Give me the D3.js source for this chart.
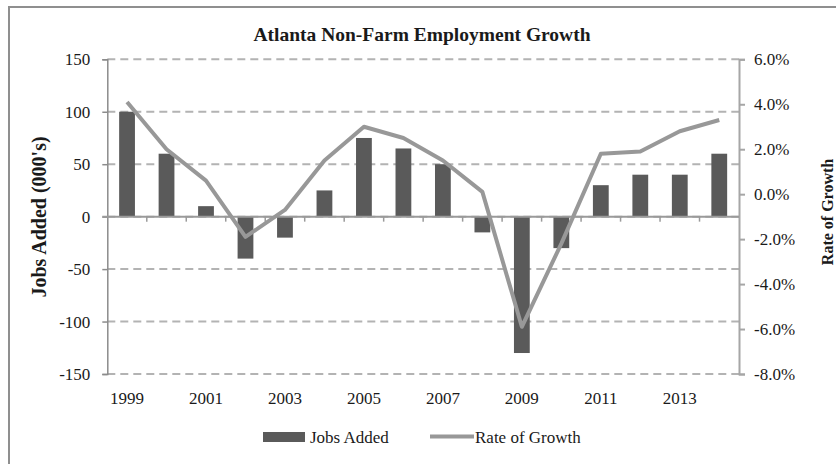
<!DOCTYPE html>
<html>
<head>
<meta charset="utf-8">
<script src="https://cdn.jsdelivr.net/npm/d3@7"></script>
<style>
  html, body { margin: 0; padding: 0; background: #fff; }
  svg { display: block; }
  text { font-family: "Liberation Serif", "Times New Roman", serif; fill: #1a1a1a; }
</style>
</head>
<body>
<svg id="chart" width="836" height="464"></svg>
<script>
// Atlanta non-farm payroll change by year
const years = ["1999","2000","2001","2002","2003","2004","2005","2006",
               "2007","2008","2009","2010","2011","2012","2013","2014"];
const jobsAdded = [100, 60, 10, -40, -20, 25, 75, 65, 50, -15, -130, -30, 30, 40, 40, 60];
const growthRate = [4.1, 2.0, 0.6, -1.9, -0.7, 1.5, 3.0, 2.5, 1.5, 0.1, -5.9, -2.2, 1.8, 1.9, 2.8, 3.3];
const jobsTicks = [-150, -100, -50, 0, 50, 100, 150];
const rateTicks = [-8, -6, -4, -2, 0, 2, 4, 6];
const yearLabels = ["1999","2001","2003","2005","2007","2009","2011","2013"];

const svg = d3.select("#chart");

const plot = { left: 107.3, right: 739, top: 59.3, bottom: 374 };

const x = d3.scaleBand().domain(years).range([plot.left, plot.right]).padding(0);
const yJobs = d3.scaleLinear().domain([-150, 150]).range([plot.bottom, plot.top]);
const yRate = d3.scaleLinear().domain([-8, 6]).range([plot.bottom, plot.top]);

// plain hyphen for negatives, as in spreadsheet output
const fmtJobs = d => String(d);
const fmtRate = d => d.toFixed(1) + "%";

// outer frame
svg.append("rect")
  .attr("x", 9).attr("y", 7)
  .attr("width", 840).attr("height", 470)
  .attr("fill", "none").attr("stroke", "#8f8f8f").attr("stroke-width", 2);

// title
svg.append("text")
  .attr("x", 422).attr("y", 41)
  .attr("text-anchor", "middle")
  .style("font-size", "19.5px").style("font-weight", "bold")
  .text("Atlanta Non-Farm Employment Growth");

// dashed gridlines
svg.append("g").selectAll("line")
  .data(jobsTicks)
  .join("line")
  .attr("x1", plot.left).attr("x2", plot.right)
  .attr("y1", d => yJobs(d)).attr("y2", d => yJobs(d))
  .attr("stroke", "#b3b3b3").attr("stroke-width", 2)
  .attr("stroke-dasharray", "8,5");

// left axis
const leftAxis = svg.append("g")
  .attr("transform", `translate(${plot.left},0)`)
  .call(d3.axisLeft(yJobs).tickValues(jobsTicks).tickSize(5).tickPadding(12).tickFormat(fmtJobs));
leftAxis.select(".domain").attr("stroke", "#8c8c8c").attr("stroke-width", 1.5);
leftAxis.selectAll(".tick line").attr("stroke", "#8c8c8c").attr("stroke-width", 1.5);
leftAxis.selectAll(".tick text").style("font-size", "17px").attr("fill", "#1a1a1a")
  .attr("font-family", "Liberation Serif");

// right axis
const rightAxis = svg.append("g")
  .attr("transform", `translate(${plot.right},0)`)
  .call(d3.axisRight(yRate).tickValues(rateTicks).tickSize(6).tickPadding(9).tickFormat(fmtRate));
rightAxis.select(".domain").attr("stroke", "#a6a6a6").attr("stroke-width", 2);
rightAxis.selectAll(".tick line").attr("stroke", "#a6a6a6").attr("stroke-width", 2);
rightAxis.selectAll(".tick text").style("font-size", "17px").attr("fill", "#1a1a1a")
  .attr("font-family", "Liberation Serif");

// bars
svg.append("g").selectAll("rect")
  .data(years.map((y, i) => ({ year: y, value: jobsAdded[i] })))
  .join("rect")
  .attr("x", d => x(d.year) + x.bandwidth() * 0.3)
  .attr("width", x.bandwidth() * 0.4)
  .attr("y", d => yJobs(Math.max(0, d.value)))
  .attr("height", d => Math.abs(yJobs(d.value) - yJobs(0)))
  .attr("fill", "#5a5a5a");

// category axis along zero line
const zeroY = yJobs(0);
svg.append("line")
  .attr("x1", plot.left - 5).attr("x2", plot.right)
  .attr("y1", zeroY).attr("y2", zeroY)
  .attr("stroke", "#9a9a9a").attr("stroke-width", 2);
const boundaries = years.map(y => x(y)).concat([plot.right]).slice(1, -1);
svg.append("g").selectAll("line")
  .data(boundaries)
  .join("line")
  .attr("x1", d => d).attr("x2", d => d)
  .attr("y1", zeroY).attr("y2", zeroY + 5)
  .attr("stroke", "#9a9a9a").attr("stroke-width", 1.5);

// year labels below plot
svg.append("g").selectAll("text")
  .data(yearLabels)
  .join("text")
  .attr("x", d => x(d) + x.bandwidth() / 2)
  .attr("y", 404)
  .attr("text-anchor", "middle")
  .style("font-size", "17px")
  .text(d => d);

// growth rate line
const line = d3.line()
  .x((d, i) => x(years[i]) + x.bandwidth() / 2)
  .y(d => yRate(d));
svg.append("path")
  .datum(growthRate)
  .attr("d", line)
  .attr("fill", "none")
  .attr("stroke", "#989898")
  .attr("stroke-width", 4)
  .attr("stroke-linejoin", "round");

// axis titles
svg.append("text")
  .attr("transform", "translate(46,217) rotate(-90)")
  .attr("text-anchor", "middle")
  .style("font-size", "20px").style("font-weight", "bold")
  .text("Jobs Added (000's)");
svg.append("text")
  .attr("transform", "translate(833,212) rotate(-90)")
  .attr("text-anchor", "middle")
  .style("font-size", "16px").style("font-weight", "bold")
  .text("Rate of Growth");

// legend
const legend = svg.append("g");
legend.append("rect")
  .attr("x", 263).attr("y", 432).attr("width", 42).attr("height", 10)
  .attr("fill", "#5a5a5a");
legend.append("text")
  .attr("x", 310).attr("y", 443)
  .style("font-size", "17px")
  .text("Jobs Added");
legend.append("line")
  .attr("x1", 430).attr("x2", 474).attr("y1", 436.5).attr("y2", 436.5)
  .attr("stroke", "#989898").attr("stroke-width", 4);
legend.append("text")
  .attr("x", 475).attr("y", 443)
  .style("font-size", "17px")
  .text("Rate of Growth");
</script>
</body>
</html>
